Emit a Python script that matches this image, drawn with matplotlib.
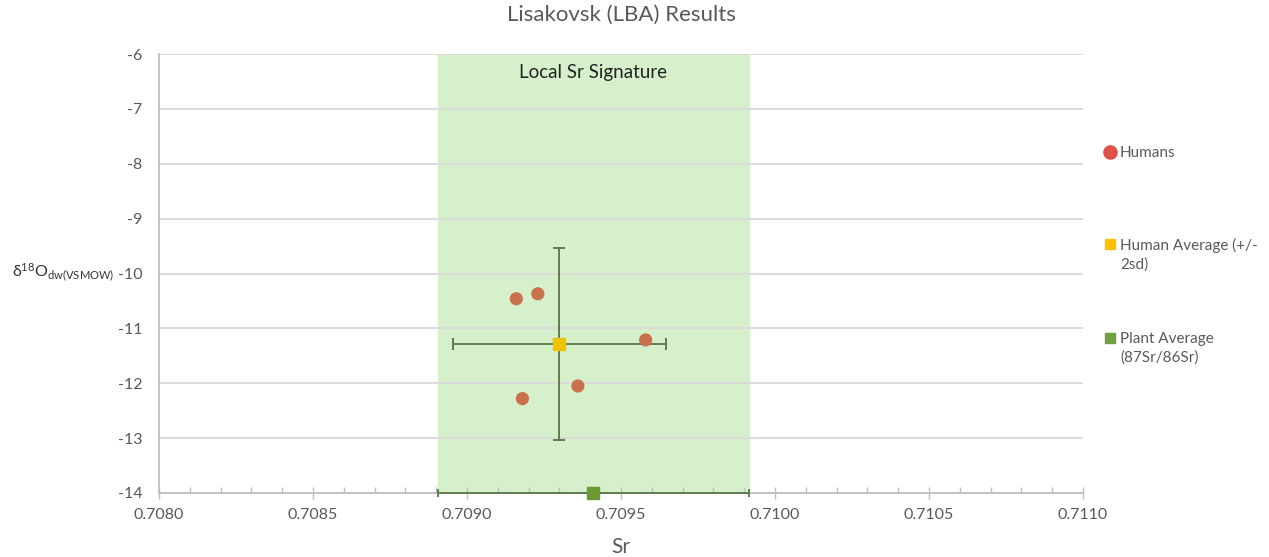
import matplotlib.pyplot as plt
import numpy as np
from matplotlib.ticker import FixedLocator, MultipleLocator, FormatStrFormatter

plt.rcParams["font.family"] = ["Lato", "DejaVu Sans"]
plt.rcParams["mathtext.fontset"] = "custom"
plt.rcParams["mathtext.rm"] = "Lato"
plt.rcParams["mathtext.it"] = "Lato"
plt.rcParams["axes.unicode_minus"] = False

# individual human samples: 87Sr/86Sr vs d18O (drinking water)
human_sr = [0.70916, 0.70923, 0.70958, 0.70936, 0.70918]
human_d18o = [-10.46, -10.37, -11.21, -12.05, -12.28]

# human average with +/- 2sd
human_avg_sr = 0.70930
human_avg_d18o = -11.28
human_sr_2sd = 0.000345
human_d18o_2sd = 1.75

# plant average (local bioavailable Sr range)
plant_avg_sr = 0.70941
plant_avg_y = -14.0
plant_sr_err = 0.000505

TEXT_GRAY = "#595959"
GRID_GRAY = "#d9d9d9"
ERR_GREEN = "#5e7f4c"

fig = plt.figure(figsize=(12.69, 5.57), dpi=100)
ax = fig.add_axes([159 / 1269, 1 - 493 / 557, (1083 - 159) / 1269, (493 - 54) / 557])

ax.set_xlim(0.7080, 0.7110)
ax.set_ylim(-14, -6)

# local signature band = plant average +/- error
ax.axvspan(plant_avg_sr - plant_sr_err, plant_avg_sr + plant_sr_err,
           color="#d6f0cb", zorder=0)
ax.text(plant_avg_sr, -6.33, "Local Sr Signature", ha="center", va="center",
        fontsize=13.5, color="#222222")

ax.yaxis.set_major_locator(MultipleLocator(1))
ax.grid(axis="y", color=GRID_GRAY, linewidth=1.3, zorder=1)
ax.set_axisbelow(True)

ax.errorbar(human_avg_sr, human_avg_d18o, xerr=human_sr_2sd, yerr=human_d18o_2sd,
            fmt="none", ecolor=ERR_GREEN, elinewidth=1.4, capsize=4.5, capthick=1.4,
            zorder=3)
ax.scatter(human_sr, human_d18o, s=90, color="#c8714a", edgecolors="none", zorder=4,
           clip_on=False)
ax.plot(human_avg_sr, human_avg_d18o, marker="s", markersize=8.5, color="#f2c200",
        linestyle="none", zorder=5)

ax.errorbar(plant_avg_sr, plant_avg_y, xerr=plant_sr_err, fmt="none",
            ecolor=ERR_GREEN, elinewidth=1.4, capsize=3, capthick=1.4, zorder=6,
            clip_on=False)
ax.plot(plant_avg_sr, plant_avg_y, marker="s", markersize=8.5, color="#6a9a34",
        linestyle="none", zorder=7, clip_on=False)

for side in ["top", "right"]:
    ax.spines[side].set_visible(False)
for side in ["left", "bottom"]:
    ax.spines[side].set_color("#bfbfbf")
    ax.spines[side].set_linewidth(1.3)

ax.xaxis.set_major_locator(FixedLocator(np.arange(0.7080, 0.71101, 0.0005)))
ax.xaxis.set_minor_locator(MultipleLocator(0.0001))
ax.xaxis.set_major_formatter(FormatStrFormatter("%.4f"))
ax.tick_params(axis="x", which="major", direction="inout", length=9, width=1,
               color="#bfbfbf", labelsize=11.5, labelcolor=TEXT_GRAY, pad=6)
ax.tick_params(axis="x", which="minor", direction="in", length=4, width=1,
               color="#bfbfbf")
ax.tick_params(axis="y", length=0, labelsize=11.5, labelcolor=TEXT_GRAY, pad=12)

ax.set_title("Lisakovsk (LBA) Results", fontsize=16, color=TEXT_GRAY, pad=24)
ax.set_xlabel("Sr", fontsize=15, color=TEXT_GRAY, labelpad=11)
fig.text(12 / 1269, 1 - 272 / 557, r"δ$^{18}$O$_{\mathregular{dw(VSMOW)}}$",
         fontsize=11.5, color="#333333", va="center", ha="left")

# legend drawn on the right
legend_items = [
    ("o", "#e0504a", 9.5, 152, "Humans"),
    ("s", "#ffc000", 7.5, 244, "Human Average (+/-\n2sd)"),
    ("s", "#70a040", 7.5, 338, "Plant Average\n(87Sr/86Sr)"),
]
for marker, color, size, ypix, label in legend_items:
    yf = 1 - ypix / 557
    fig.add_artist(plt.Line2D([1110 / 1269], [yf], marker=marker, color=color,
                              markersize=size, linestyle="none",
                              transform=fig.transFigure))
    fig.text(1120 / 1269, yf + 6 / 557, label, fontsize=11, color=TEXT_GRAY,
             va="top", ha="left", linespacing=1.35)

fig.savefig("out.png", dpi=100)
